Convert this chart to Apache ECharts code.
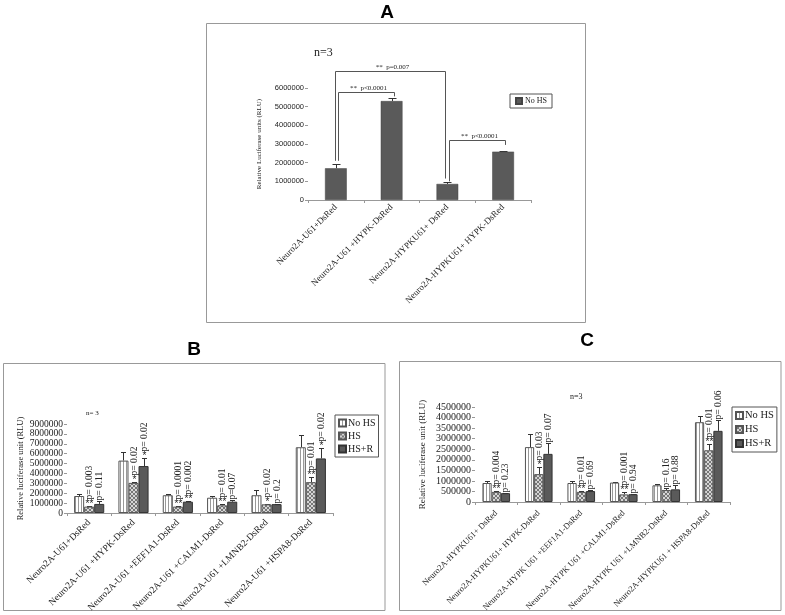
<!DOCTYPE html>
<html><head><meta charset="utf-8">
<script src="https://cdn.jsdelivr.net/npm/echarts@6/dist/echarts.min.js"></script>
<style>html,body{margin:0;padding:0;background:#fff}#c{width:785px;height:615px}</style>
</head><body><div id="c"></div>
<script>
// ---------- Panel A data ----------
const catsA = ['Neuro2A-U61+DsRed', 'Neuro2A-U61 +HYPK-DsRed', 'Neuro2A-HYPKU61+ DsRed', 'Neuro2A-HYPKU61+ HYPK-DsRed'];
const valA = [1700000, 5300000, 860000, 2590000];
const errA = [250000, 150000, 100000, 50000];
const brLeft = [0, 0, 2];
const brRight = [2, 1, 3];
const brLevel = [6900000, 5800000, 3200000];
const brLeftBottom = [2100000, 2100000, 1000000];
const brRightBottom = [1150000, 5550000, 2950000];
const brText = ['**  p=0.007', '**  p<0.0001', '**  p<0.0001'];

// ---------- Panel B data ----------
const catsB = ['Neuro2A-U61+DsRed', 'Neuro2A-U61 +HYPK-DsRed', 'Neuro2A-U61 +EEF1A1-DsRed', 'Neuro2A-U61 +CALM1-DsRed', 'Neuro2A-U61 +LMNB2-DsRed', 'Neuro2A-U61 +HSPA8-DsRed'];
const B_noHS = [1720000, 5300000, 1800000, 1550000, 1800000, 6650000];
const B_noHS_err = [250000, 900000, 80000, 180000, 520000, 1250000];
const B_HS = [650000, 3050000, 650000, 780000, 880000, 3120000];
const B_HS_err = [100000, 120000, 50000, 180000, 50000, 550000];
const B_HSR = [920000, 4750000, 1150000, 1150000, 900000, 5520000];
const B_HSR_err = [300000, 800000, 50000, 180000, 50000, 1100000];
const B_HS_stars = ['**', '*', '**', '**', '*', '**'];
const B_HS_p = ['p= 0.003', 'p= 0.02', 'p= 0.0001', 'p= 0.01', 'p= 0.02', 'p= 0.01'];
const B_HSR_stars = ['', '*', '**', '', '', '*'];
const B_HSR_p = ['p= 0.11', 'p= 0.02', 'p= 0.002', 'p=0.07', 'p= 0.2', 'p= 0.02'];

// ---------- Panel C data ----------
const catsC = ['Neuro2A-HYPKU61+ DsRed', 'Neuro2A-HYPKU61+ HYPK-DsRed', 'Neuro2A-HYPK U61 +EEF1A1-DsRed', 'Neuro2A-HYPK U61 +CALM1-DsRed', 'Neuro2A-HYPK U61 +LMNB2-DsRed', 'Neuro2A-HYPKU61 + HSPA8-DsRed'];
const C_noHS = [900000, 2600000, 900000, 920000, 790000, 3780000];
const C_noHS_err = [80000, 600000, 80000, 30000, 50000, 300000];
const C_HS = [480000, 1320000, 480000, 360000, 570000, 2450000];
const C_HS_err = [50000, 350000, 50000, 110000, 110000, 300000];
const C_HSR = [420000, 2280000, 520000, 370000, 600000, 3370000];
const C_HSR_err = [20000, 530000, 30000, 30000, 190000, 520000];
const C_HS_stars = ['**', '*', '**', '**', '', '**'];
const C_HS_p = ['p= 0.004', 'p= 0.03', 'p= 0.01', 'p= 0.001', 'p= 0.16', 'p= 0.01'];
const C_HSR_stars = ['', '', '', '', '', ''];
const C_HSR_p = ['p= 0.23', 'p= 0.07', 'p= 0.69', 'p= 0.94', 'p= 0.88', 'p= 0.06'];

// ---------- patterns ----------
function stripe() {
  const c = document.createElement('canvas'); c.width = 3; c.height = 3;
  const g = c.getContext('2d');
  g.fillStyle = '#ffffff'; g.fillRect(0, 0, 3, 3);
  g.fillStyle = '#999999'; g.fillRect(0, 0, 1, 3);
  return { image: c, repeat: 'repeat' };
}
function hatch() {
  const c = document.createElement('canvas'); c.width = 4; c.height = 4;
  const g = c.getContext('2d');
  g.fillStyle = '#d6d6d6'; g.fillRect(0, 0, 4, 4);
  g.fillStyle = '#777777';
  for (let i = 0; i < 4; i++) { g.fillRect(i, i, 1, 1); g.fillRect(3 - i, i, 1, 1); }
  return { image: c, repeat: 'repeat' };
}
const SERIF = 'Liberation Serif';
const plain = v => String(Math.round(v));

function errRenderer(n, gap, cap, annFn) {
  return function (params, api) {
    const i = api.value(0), k = api.value(1), v = api.value(2), e = api.value(3);
    const band = api.size([1, 0])[0];
    const bw = band * (1 - gap) / n;
    const cx = Math.round(api.coord([i, 0])[0] + (k - (n - 1) / 2) * bw) + 0.5;
    const yb = api.coord([i, v])[1], yt = Math.round(api.coord([i, v + e])[1]) + 0.5;
    const st = { stroke: '#333', lineWidth: 1 };
    const ch = [
      { type: 'line', shape: { x1: cx, y1: yb, x2: cx, y2: yt }, style: st },
      { type: 'line', shape: { x1: cx - cap, y1: yt, x2: cx + cap, y2: yt }, style: st }
    ];
    const ann = annFn ? annFn(params.dataIndex) : null;
    let y = yt - 1;
    if (ann && ann.stars) {
      ch.push({ type: 'text', x: cx, y: y + 4, style: { text: ann.stars, align: 'center', verticalAlign: 'bottom', fontSize: 10, fontFamily: 'Liberation Sans', fill: '#222' } });
      y -= 6;
    }
    if (ann && ann.p) {
      ch.push({ type: 'text', x: cx, y: y, rotation: Math.PI / 2, style: { text: ann.p, align: 'left', verticalAlign: 'middle', fontSize: 9.5, fontFamily: SERIF, fill: '#222' } });
    }
    return { type: 'group', children: ch };
  };
}

function buildErr(vals, errs) {
  const d = [];
  for (let k = 0; k < vals.length; k++) for (let i = 0; i < vals[k].length; i++) d.push([i, k, vals[k][i], errs[k][i]]);
  return d;
}
function annLookup(stars, ps, nCat) {
  return function (idx) {
    const k = Math.floor(idx / nCat), i = idx % nCat;
    return { stars: stars[k][i], p: ps[k][i] };
  };
}

const dataErrA = valA.map((v, i) => [i, 0, v, errA[i]]);
const dataErrB = buildErr([B_noHS, B_HS, B_HSR], [B_noHS_err, B_HS_err, B_HSR_err]);
const dataErrC = buildErr([C_noHS, C_HS, C_HSR], [C_noHS_err, C_HS_err, C_HSR_err]);
const annB = annLookup([['', '', '', '', '', ''], B_HS_stars, B_HSR_stars], [['', '', '', '', '', ''], B_HS_p, B_HSR_p], 6);
const annC = annLookup([['', '', '', '', '', ''], C_HS_stars, C_HSR_stars], [['', '', '', '', '', ''], C_HS_p, C_HSR_p], 6);

const brData = brLeft.map((l, i) => [l, brLevel[i]]);
const brDx = [[-1, -2], [2, 2], [2, 2]];
function brRender(params, api) {
  const i = params.dataIndex;
  const xl = Math.round(api.coord([brLeft[i], 0])[0] + brDx[i][0]) + 0.5;
  const xr = Math.round(api.coord([brRight[i], 0])[0] + brDx[i][1]) + 0.5;
  const yl = Math.round(api.coord([0, brLevel[i]])[1]) + 0.5;
  const ylb = api.coord([0, brLeftBottom[i]])[1];
  const yrb = api.coord([0, brRightBottom[i]])[1];
  const st = { stroke: '#555', lineWidth: 1, fill: null };
  return {
    type: 'group', children: [
      { type: 'polyline', shape: { points: [[xl, ylb], [xl, yl], [xr, yl], [xr, yrb]] }, style: st },
      { type: 'text', x: (xl + xr) / 2 + 2, y: yl - 1, style: { text: brText[i], align: 'center', verticalAlign: 'bottom', fontSize: 7, fontFamily: SERIF, fill: '#222' } }
    ]
  };
}

function xAxisCfg(grid, cats, fs, margin) {
  return {
    type: 'category', gridIndex: grid, data: cats,
    axisLine: { show: true, lineStyle: { color: '#999', width: 1 } },
    axisTick: { show: true, length: 3, lineStyle: { color: '#999' } },
    axisLabel: { interval: 0, rotate: 45, fontSize: fs, fontFamily: SERIF, color: '#222', margin: margin }
  };
}
function yAxisCfg(grid, max, interval, lab, name, nameFs, nameGap) {
  lab.formatter = plain;
  return {
    type: 'value', gridIndex: grid, min: 0, max: max, interval: interval,
    splitLine: { show: false },
    axisLine: { show: false },
    axisTick: { show: true, length: 3, lineStyle: { color: '#999' } },
    axisLabel: lab,
    name: name, nameLocation: 'middle', nameGap: nameGap,
    nameTextStyle: { fontSize: nameFs, fontFamily: SERIF, color: '#222' }
  };
}

const chart = echarts.init(document.getElementById('c'), null, { renderer: 'canvas' });
const stripeFill = stripe(), hatchFill = hatch();

const option = {
  animation: false,
  backgroundColor: '#fff',
  grid: [
    { left: 308, top: 88, width: 223, height: 112 },
    { left: 67, top: 424, width: 266, height: 91 },
    { left: 475, top: 407, width: 255, height: 95 }
  ],
  xAxis: [
    xAxisCfg(0, catsA, 9, 6),
    xAxisCfg(1, catsB, 9.5, 8),
    xAxisCfg(2, catsC, 8.5, 10)
  ],
  yAxis: [
    yAxisCfg(0, 6000000, 1000000, { fontSize: 7.5, fontFamily: 'Liberation Sans', color: '#222', margin: 4 }, 'Relative Luciferase units (RLU)', 7, 45),
    yAxisCfg(1, 9000000, 1000000, { fontSize: 9.5, fontFamily: SERIF, color: '#222', margin: 4 }, 'Relative luciferase unit (RLU)', 8.5, 42),
    yAxisCfg(2, 4500000, 500000, { fontSize: 10, fontFamily: SERIF, color: '#222', margin: 4 }, 'Relative luciferase unit (RLU)', 9, 48)
  ],
  legend: [
    { data: ['No HS'], left: 510, top: 94, icon: 'rect', itemWidth: 6, itemHeight: 6, itemGap: 2, padding: [3, 5, 3, 5],
      borderColor: '#555', borderWidth: 1, textStyle: { fontSize: 8, fontFamily: SERIF, color: '#222', padding: [0, 0, 0, -2] }, selectedMode: false },
    { data: ['No HS ', 'HS ', 'HS+R '], left: 335, top: 415, orient: 'vertical', icon: 'rect', itemWidth: 7, itemHeight: 7, itemGap: 3, padding: [3, 3, 3, 3],
      borderColor: '#555', borderWidth: 1, formatter: n => n.trim(), textStyle: { fontSize: 10, fontFamily: SERIF, color: '#222', padding: [0, 0, 0, -3] }, selectedMode: false },
    { data: ['No HS  ', 'HS  ', 'HS+R  '], left: 732, top: 407, orient: 'vertical', icon: 'rect', itemWidth: 7, itemHeight: 7, itemGap: 3, padding: [3, 3, 3, 3],
      borderColor: '#555', borderWidth: 1, formatter: n => n.trim(), textStyle: { fontSize: 10.5, fontFamily: SERIF, color: '#222', padding: [0, 0, 0, -3] }, selectedMode: false }
  ],
  series: [
    { type: 'bar', name: 'No HS', xAxisIndex: 0, yAxisIndex: 0, data: valA, barWidth: '39%', silent: true,
      itemStyle: { color: '#5a5a5a', borderColor: '#444', borderWidth: 0.5 } },
    { type: 'custom', xAxisIndex: 0, yAxisIndex: 0, data: dataErrA, encode: { x: 0, y: 2 }, silent: true, clip: false,
      renderItem: errRenderer(1, 0.61, 4, null) },
    { type: 'custom', xAxisIndex: 0, yAxisIndex: 0, data: brData, encode: { x: 0, y: 1 }, silent: true, clip: false,
      renderItem: brRender },

    { type: 'bar', name: 'No HS ', xAxisIndex: 1, yAxisIndex: 1, data: B_noHS, barGap: '0%', barCategoryGap: '32%', silent: true,
      itemStyle: { color: stripeFill, borderColor: '#555', borderWidth: 1 } },
    { type: 'bar', name: 'HS ', xAxisIndex: 1, yAxisIndex: 1, data: B_HS, barGap: '0%', barCategoryGap: '32%', silent: true,
      itemStyle: { color: hatchFill, borderColor: '#555', borderWidth: 1 } },
    { type: 'bar', name: 'HS+R ', xAxisIndex: 1, yAxisIndex: 1, data: B_HSR, barGap: '0%', barCategoryGap: '32%', silent: true,
      itemStyle: { color: '#5a5a5a', borderColor: '#333', borderWidth: 1 } },
    { type: 'custom', xAxisIndex: 1, yAxisIndex: 1, data: dataErrB, encode: { x: 0, y: 2 }, silent: true, clip: false,
      renderItem: errRenderer(3, 0.32, 2.5, annB) },

    { type: 'bar', name: 'No HS  ', xAxisIndex: 2, yAxisIndex: 2, data: C_noHS, barGap: '0%', barCategoryGap: '35%', silent: true,
      itemStyle: { color: stripeFill, borderColor: '#555', borderWidth: 1 } },
    { type: 'bar', name: 'HS  ', xAxisIndex: 2, yAxisIndex: 2, data: C_HS, barGap: '0%', barCategoryGap: '35%', silent: true,
      itemStyle: { color: hatchFill, borderColor: '#555', borderWidth: 1 } },
    { type: 'bar', name: 'HS+R  ', xAxisIndex: 2, yAxisIndex: 2, data: C_HSR, barGap: '0%', barCategoryGap: '35%', silent: true,
      itemStyle: { color: '#5a5a5a', borderColor: '#333', borderWidth: 1 } },
    { type: 'custom', xAxisIndex: 2, yAxisIndex: 2, data: dataErrC, encode: { x: 0, y: 2 }, silent: true, clip: false,
      renderItem: errRenderer(3, 0.35, 2.5, annC) }
  ],
  graphic: [
    { type: 'rect', shape: { x: 206.5, y: 23.5, width: 379, height: 299 }, style: { fill: null, stroke: '#999', lineWidth: 1 }, silent: true },
    { type: 'rect', shape: { x: 3.5, y: 363.5, width: 381.5, height: 247 }, style: { fill: null, stroke: '#999', lineWidth: 1 }, silent: true },
    { type: 'rect', shape: { x: 399.5, y: 361.5, width: 381.5, height: 249 }, style: { fill: null, stroke: '#999', lineWidth: 1 }, silent: true },
    { type: 'text', x: 387, y: 13, style: { text: 'A', align: 'center', verticalAlign: 'middle', fontSize: 19, fontWeight: 'bold', fontFamily: 'Liberation Sans', fill: '#000' }, silent: true },
    { type: 'text', x: 194, y: 350, style: { text: 'B', align: 'center', verticalAlign: 'middle', fontSize: 19, fontWeight: 'bold', fontFamily: 'Liberation Sans', fill: '#000' }, silent: true },
    { type: 'text', x: 587, y: 341, style: { text: 'C', align: 'center', verticalAlign: 'middle', fontSize: 19, fontWeight: 'bold', fontFamily: 'Liberation Sans', fill: '#000' }, silent: true },
    { type: 'text', x: 314, y: 53, style: { text: 'n=3', align: 'left', verticalAlign: 'middle', fontSize: 12, fontFamily: SERIF, fill: '#222' }, silent: true },
    { type: 'text', x: 86, y: 413, style: { text: 'n= 3', align: 'left', verticalAlign: 'middle', fontSize: 7, fontFamily: SERIF, fill: '#222' }, silent: true },
    { type: 'text', x: 570, y: 397, style: { text: 'n=3', align: 'left', verticalAlign: 'middle', fontSize: 8, fontFamily: SERIF, fill: '#222' }, silent: true }
  ]
};
chart.setOption(option);
</script>
</body></html>
